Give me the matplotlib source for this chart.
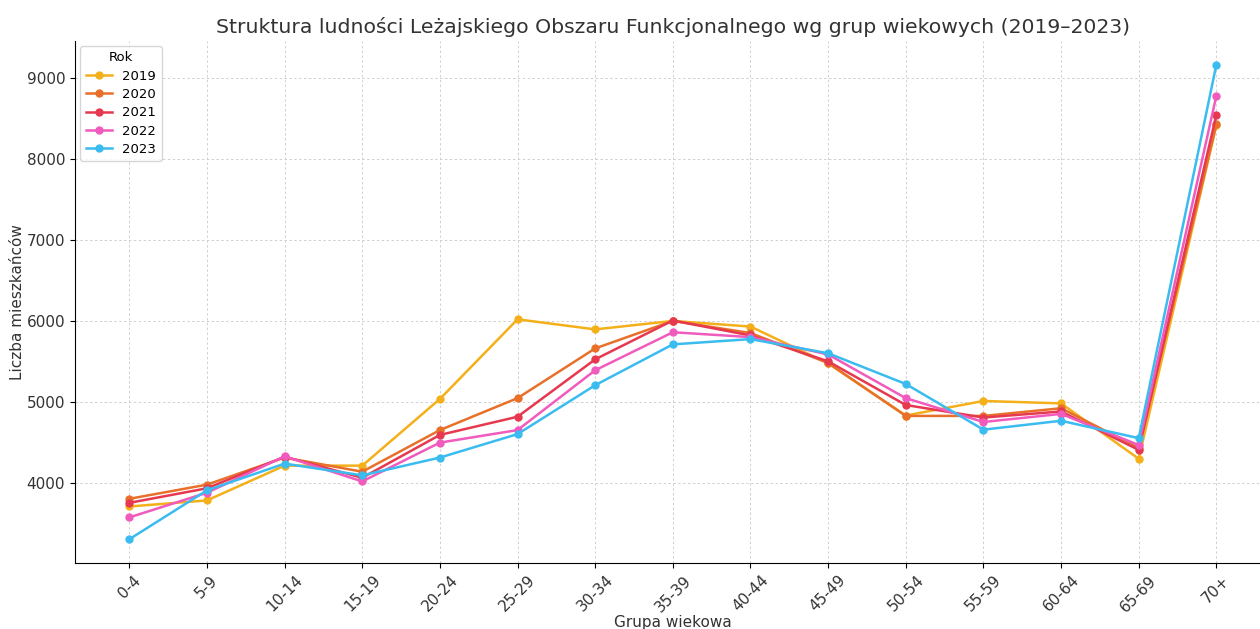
import numpy as np
import matplotlib.pyplot as plt

# grupy wiekowe i lata
grupy = ["0-4", "5-9", "10-14", "15-19", "20-24", "25-29", "30-34", "35-39",
         "40-44", "45-49", "50-54", "55-59", "60-64", "65-69", "70+"]
lata = ["2019", "2020", "2021", "2022", "2023"]

l2019 = [3705, 3780, 4210, 4210, 5035, 6020, 5895, 6000, 5930, 5475, 4830, 5010, 4980, 4295, 8420]
l2020 = [3800, 3975, 4310, 4135, 4650, 5045, 5660, 6000, 5850, 5480, 4825, 4825, 4920, 4430, 8430]
l2021 = [3750, 3930, 4320, 4060, 4590, 4815, 5525, 6005, 5820, 5500, 4960, 4805, 4880, 4405, 8550]
l2022 = [3570, 3875, 4325, 4015, 4495, 4650, 5390, 5860, 5800, 5585, 5045, 4750, 4850, 4465, 8785]
l2023 = [3300, 3905, 4235, 4090, 4310, 4600, 5205, 5710, 5775, 5600, 5220, 4655, 4765, 4550, 9170]

kolory = ["#f4b01b", "#e8702a", "#e63950", "#f05bbd", "#3bbcf0"]

fig = plt.figure(figsize=(12.6, 6.29), dpi=100)
ax = fig.add_axes([0.0595, 0.105, 0.949, 0.83])

x = np.arange(len(grupy))
for rok, wartosci, kolor in zip(lata, [l2019, l2020, l2021, l2022, l2023], kolory):
    ax.plot(x, wartosci, marker="o", markersize=5, linewidth=1.8, color=kolor, label=rok)

ax.set_xticks(x)
ax.set_xticklabels(grupy, rotation=45, fontsize=11, color="#333333")
ax.tick_params(axis="y", labelsize=11, labelcolor="#333333")
ax.set_xlabel("Grupa wiekowa", fontsize=11, labelpad=0, color="#333333")
ax.set_ylabel("Liczba mieszkańców", fontsize=11, labelpad=1, color="#333333")
ax.set_title("Struktura ludności Leżajskiego Obszaru Funkcjonalnego wg grup wiekowych (2019–2023)",
             fontsize=14.7, color="#333333")
ax.grid(True, linestyle=(0, (2.5, 2.5)), color="#d0d0d0", linewidth=0.7)
ax.spines["top"].set_visible(False)
ax.spines["right"].set_visible(False)
ax.legend(title="Rok", loc="upper left", fontsize=9.5, title_fontsize=9.5,
          labelspacing=0.4, borderaxespad=0.4)

plt.savefig("out.png", dpi=100)
